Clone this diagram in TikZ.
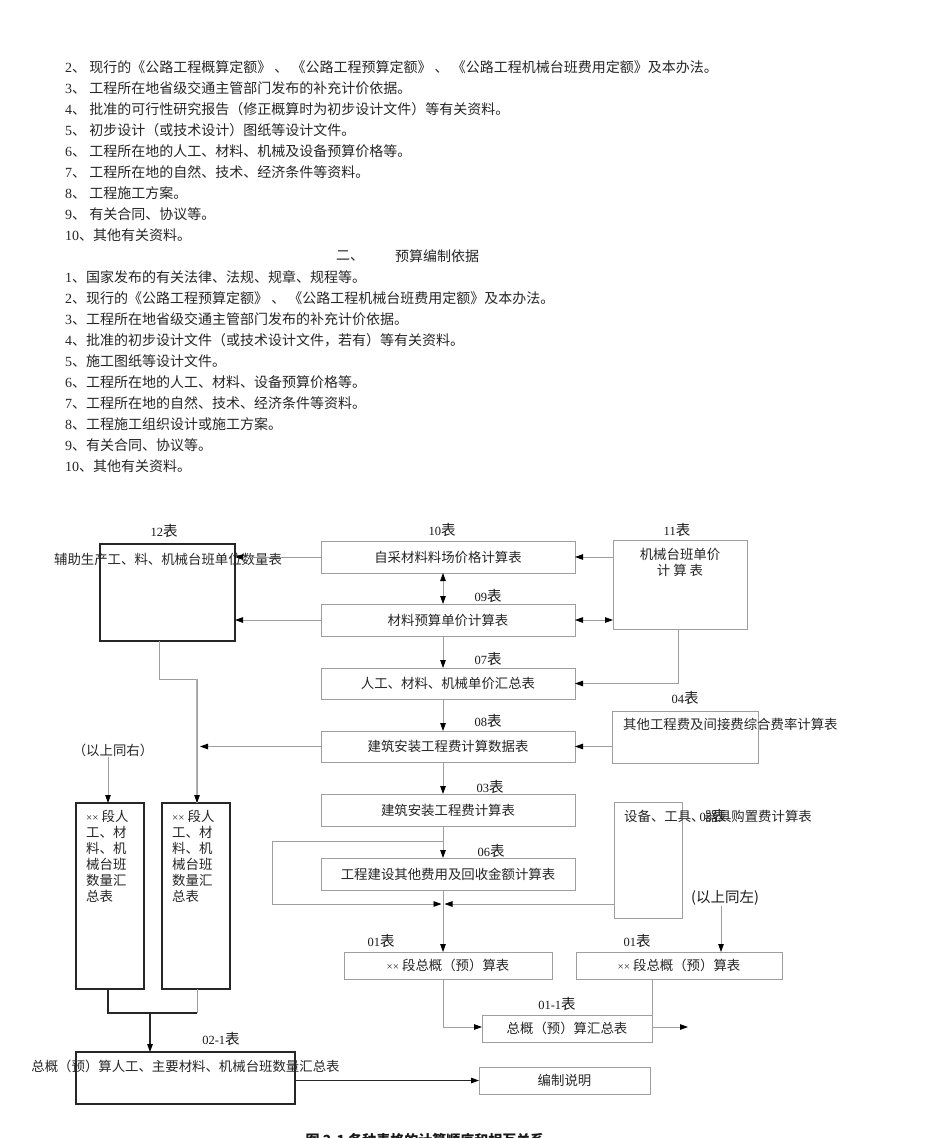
\documentclass[tikz,border=0pt]{standalone}
\usepackage{fontspec}
\setmainfont{Noto Sans CJK SC}
\newfontfamily\lser{Liberation Serif}
\newfontfamily\lsans{Liberation Sans}
\usetikzlibrary{arrows.meta}
\newcommand\dg[1]{{\lser #1}}
\newcommand\lb[1]{{\lser\fontsize{12.5}{14}\selectfont #1}{\fontsize{14.5}{16}\selectfont 表}}
\newcommand\xx{{\lser\fontsize{11}{12}\selectfont ××}}
\begin{document}
\begin{tikzpicture}[x=1pt,y=-1pt,
  txt/.style={font=\fontsize{14}{16}\selectfont, text=black!85, inner sep=0pt},
  dtxt/.style={font=\fontsize{13.4}{16}\selectfont, text=black!85, inner sep=0pt},
  lbl/.style={text=black!90, inner sep=0pt},
  gbox/.style={draw=black!38, line width=1pt, inner sep=0pt, outer sep=0pt, font=\fontsize{13.4}{16}\selectfont, text=black!85},
  kbox/.style={draw=black!85, line width=1.6pt, inner sep=0pt, outer sep=0pt},
  gline/.style={draw=black!38, line width=0.9pt},
  kline/.style={draw=black!85, line width=1.2pt},
  tip/.style={-{Triangle[length=8pt,width=5.5pt,color=black]}},
  dtip/.style={{Triangle[length=8pt,width=5.5pt,color=black]}-{Triangle[length=8pt,width=5.5pt,color=black]}}
]
\useasboundingbox (0,0) rectangle (950,1138);
\fill[white] (0,0) rectangle (950,1138);

% ---- text list 1 ----
\node[txt,anchor=west] (a2) at (65,67) {\dg{2}、 现行的《公路工程概算定额》 、 《公路工程预算定额》 、 《公路工程机械台班费用定额》及本办法。};
\node[txt,anchor=west] (a3) at (65,88) {\dg{3}、 工程所在地省级交通主管部门发布的补充计价依据。};
\node[txt,anchor=west] (a4) at (65,109) {\dg{4}、 批准的可行性研究报告（修正概算时为初步设计文件）等有关资料。};
\node[txt,anchor=west] (a5) at (65,130) {\dg{5}、 初步设计（或技术设计）图纸等设计文件。};
\node[txt,anchor=west] (a6) at (65,151) {\dg{6}、 工程所在地的人工、材料、机械及设备预算价格等。};
\node[txt,anchor=west] (a7) at (65,172) {\dg{7}、 工程所在地的自然、技术、经济条件等资料。};
\node[txt,anchor=west] (a8) at (65,193) {\dg{8}、 工程施工方案。};
\node[txt,anchor=west] (a9) at (65,214) {\dg{9}、 有关合同、协议等。};
\node[txt,anchor=west] (a10) at (65,235) {\dg{10}、其他有关资料。};
% ---- heading ----
\node[txt] (h1) at (350,256) {二、};
\node[txt] (h2) at (437,256) {预算编制依据};
% ---- text list 2 ----
\node[txt,anchor=west] (c1) at (65,277) {\dg{1}、国家发布的有关法律、法规、规章、规程等。};
\node[txt,anchor=west] (c2) at (65,298) {\dg{2}、现行的《公路工程预算定额》 、 《公路工程机械台班费用定额》及本办法。};
\node[txt,anchor=west] (c3) at (65,319) {\dg{3}、工程所在地省级交通主管部门发布的补充计价依据。};
\node[txt,anchor=west] (c4) at (65,340) {\dg{4}、批准的初步设计文件（或技术设计文件，若有）等有关资料。};
\node[txt,anchor=west] (c5) at (65,361) {\dg{5}、施工图纸等设计文件。};
\node[txt,anchor=west] (c6) at (65,382) {\dg{6}、工程所在地的人工、材料、设备预算价格等。};
\node[txt,anchor=west] (c7) at (65,403) {\dg{7}、工程所在地的自然、技术、经济条件等资料。};
\node[txt,anchor=west] (c8) at (65,424) {\dg{8}、工程施工组织设计或施工方案。};
\node[txt,anchor=west] (c9) at (65,445) {\dg{9}、有关合同、协议等。};
\node[txt,anchor=west] (c10) at (65,466) {\dg{10}、其他有关资料。};

% ---- boxes ----
\node[kbox, minimum width=135pt, minimum height=97pt] (b12) at (167.5,592.5) {};
\node[dtxt] (t12) at (168,559) {辅助生产工、料、机械台班单位数量表};
\node[lbl] (l12) at (164,531) {\lb{12}};

\node[gbox, minimum width=254pt, minimum height=32pt] (b10) at (448,557) {自采材料料场价格计算表};
\node[lbl] (l10) at (442,530) {\lb{10}};
\node[gbox, minimum width=254pt, minimum height=32pt] (b09) at (448,620) {材料预算单价计算表};
\node[lbl] (l09) at (488,596) {\lb{09}};
\node[gbox, minimum width=254pt, minimum height=31pt] (b07) at (448,683.5) {人工、材料、机械单价汇总表};
\node[lbl] (l07) at (488,659) {\lb{07}};
\node[gbox, minimum width=254pt, minimum height=31pt] (b08) at (448,746.5) {建筑安装工程费计算数据表};
\node[lbl] (l08) at (488,721) {\lb{08}};
\node[gbox, minimum width=254pt, minimum height=32pt] (b03) at (448,810) {建筑安装工程费计算表};
\node[lbl] (l03) at (490,787) {\lb{03}};
\node[gbox, minimum width=254pt, minimum height=32pt] (b06) at (448,874) {工程建设其他费用及回收金额计算表};
\node[lbl] (l06) at (491,851) {\lb{06}};

\node[gbox, minimum width=134pt, minimum height=89pt] (b11) at (680,584.5) {};
\node[dtxt, align=center] (t11) at (680,562.5) {机械台班单价\\计\ 算\ 表};
\node[lbl] (l11) at (677,530) {\lb{11}};

\node[gbox, minimum width=146pt, minimum height=52pt] (b04) at (685,737) {};
\node[dtxt, anchor=west] (t04) at (623,724) {其他工程费及间接费综合费率计算表};
\node[lbl] (l04) at (685,698) {\lb{04}};

\node[gbox, minimum width=68pt, minimum height=116pt] (b05) at (648,860) {};
\node[dtxt, anchor=west] (t05) at (624,816) {设备、工具、器具购置费计算表};
\node[lbl] (l05) at (713,816) {\lb{05}};

\node[kbox, minimum width=68pt, minimum height=186pt] (bL) at (110,896) {};
\node[dtxt, anchor=north west, align=left] (tL) at (86,809.5) {\xx\ 段人\\工、材\\料、机\\械台班\\数量汇\\总表};
\node[kbox, minimum width=68pt, minimum height=186pt] (bR) at (196,896) {};
\node[dtxt, anchor=north west, align=left] (tR) at (172,809.5) {\xx\ 段人\\工、材\\料、机\\械台班\\数量汇\\总表};
\node[dtxt] (tsr) at (113,750) {（以上同右）};

\node[gbox, minimum width=208pt, minimum height=27pt] (b01L) at (448,965.5) {\xx\ 段总概（预）算表};
\node[lbl] (l01L) at (381,941) {\lb{01}};
\node[gbox, minimum width=206pt, minimum height=27pt] (b01R) at (679,965.5) {\xx\ 段总概（预）算表};
\node[lbl] (l01R) at (637,941) {\lb{01}};
\node[font=\fontsize{14.5}{16}\selectfont, text=black!90, inner sep=0pt] (tsl) at (725,898) {(以上同左)};

\node[gbox, minimum width=170pt, minimum height=27pt] (bSum) at (567,1028.5) {总概（预）算汇总表};
\node[lbl] (lSum) at (557,1004) {\lb{01-1}};

\node[kbox, minimum width=219pt, minimum height=52pt] (b021) at (185.5,1078) {};
\node[dtxt] (t021) at (185.5,1066) {总概（预）算人工、主要材料、机械台班数量汇总表};
\node[lbl] (l021) at (221,1039) {\lb{02-1}};

\node[gbox, minimum width=171pt, minimum height=27pt] (bNote) at (564.5,1080.5) {编制说明};

\node[font=\fontsize{14}{16}\selectfont\bfseries, text=black!90, inner sep=0pt] (cap) at (425,1140) {图 2-1 各种表格的计算顺序和相互关系};

% ---- helper coordinates ----
\coordinate (j1) at (443,841);
\coordinate (j2) at (272,841);
\coordinate (j3) at (272,904);
\coordinate (j4) at (443,904);
\coordinate (sumout) at (688,1027);
\coordinate (k1) at (159,679);
\coordinate (k2) at (197,679);
\coordinate (k3) at (197,1013);
\coordinate (k4) at (108,1013);
\coordinate (k5) at (150,1013);
\coordinate (k8) at (197,746.5);
\coordinate (m11) at (678,0);
\coordinate (m01) at (721,0);

% ---- connectors ----
\draw[gline,tip] (b10.west) -- (b10.west -| b12.east);
\draw[gline,tip] (b09.west) -- (b09.west -| b12.east);
\draw[gline,tip] (b11.west |- b10.east) -- (b10.east);
\draw[gline,dtip] (b09.east) -- (b09.east -| b11.west);
\draw[gline,tip] (b11.south -| m11) |- (b07.east);
\draw[gline,tip] (b04.west |- b08.east) -- (b08.east);

\draw[gline,dtip] (b10.south -| j1) -- (b09.north -| j1);
\draw[gline,tip] (b09.south -| j1) -- (b07.north -| j1);
\draw[gline,tip] (b07.south -| j1) -- (b08.north -| j1);
\draw[gline,tip] (b08.south -| j1) -- (b03.north -| j1);
\draw[gline,tip] (b03.south -| j1) -- (b06.north -| j1);
\draw[gline,tip] (b06.south -| j1) -- (b01L.north -| j1);
\draw[gline,tip] (j1) -- (j2) -- (j3) -- ([xshift=-1.5pt]j4);
\draw[gline,tip] (b05.west |- j4) -- ([xshift=1.5pt]j4);

\draw[gline,tip] (tsl.south -| m01) -- (b01R.north -| m01);
\draw[gline,tip] (b01L.south -| j1) |- (bSum.west |- sumout);
\draw[gline] (b01R.south -| bSum.east) -- (bSum.north east);
\draw[gline,tip] (bSum.east |- sumout) -- (sumout);

\draw[gline] (b12.south -| k1) -- (k1) -- (k2);
\draw[draw=black!30, line width=1.6pt] (k2) -- (bR.north -| k2);
\draw[gline,tip] (k2) -- (bR.north -| k2);
\draw[gline,tip] (b08.west) -- ([xshift=3pt]k8);
\draw[gline,tip] (tsr.south -| k4) -- (bL.north -| k4);

\draw[kline] (bL.south -| k4) -- (k4) -- (k3);
\draw[gline] (bR.south -| k3) -- (k3);
\draw[kline,tip] (k5) -- (b021.north -| k5);
\draw[kline,tip] (b021.east |- bNote.west) -- (bNote.west);
\end{tikzpicture}
\end{document}
